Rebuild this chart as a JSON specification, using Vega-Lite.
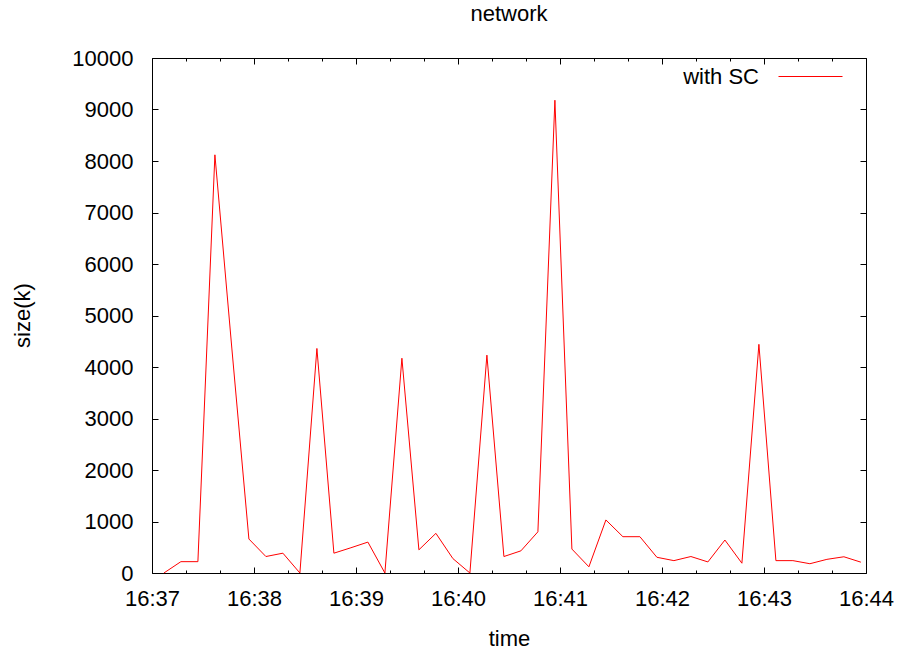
{
  "$schema": "https://vega.github.io/schema/vega-lite/v6.json",
  "autosize": {"type": "none"},
  "padding": {"left": 152, "top": 58, "right": 33, "bottom": 79},
  "width": 714,
  "height": 515,
  "background": "white",
  "title": {"text": "network", "fontSize": 22, "font": "Liberation Sans", "fontWeight": "normal", "color": "#000000", "offset": 18, "anchor": "middle"},
  "config": {"view": {"stroke": "#000000", "strokeWidth": 1}, "font": "Liberation Sans"},
  "data": {"values": [
    {"t": "2024-01-01T16:37:07", "size": 0},
    {"t": "2024-01-01T16:37:17", "size": 220},
    {"t": "2024-01-01T16:37:27", "size": 220},
    {"t": "2024-01-01T16:37:37", "size": 8120},
    {"t": "2024-01-01T16:37:47", "size": 4350},
    {"t": "2024-01-01T16:37:57", "size": 660},
    {"t": "2024-01-01T16:38:07", "size": 320},
    {"t": "2024-01-01T16:38:17", "size": 385},
    {"t": "2024-01-01T16:38:27", "size": 0},
    {"t": "2024-01-01T16:38:37", "size": 4360},
    {"t": "2024-01-01T16:38:47", "size": 385},
    {"t": "2024-01-01T16:38:57", "size": 490},
    {"t": "2024-01-01T16:39:07", "size": 600},
    {"t": "2024-01-01T16:39:17", "size": 0},
    {"t": "2024-01-01T16:39:27", "size": 4170},
    {"t": "2024-01-01T16:39:37", "size": 450},
    {"t": "2024-01-01T16:39:47", "size": 770},
    {"t": "2024-01-01T16:39:57", "size": 280},
    {"t": "2024-01-01T16:40:07", "size": 0},
    {"t": "2024-01-01T16:40:17", "size": 4230},
    {"t": "2024-01-01T16:40:27", "size": 320},
    {"t": "2024-01-01T16:40:37", "size": 430},
    {"t": "2024-01-01T16:40:47", "size": 800},
    {"t": "2024-01-01T16:40:57", "size": 9180},
    {"t": "2024-01-01T16:41:07", "size": 465},
    {"t": "2024-01-01T16:41:17", "size": 120},
    {"t": "2024-01-01T16:41:27", "size": 1030},
    {"t": "2024-01-01T16:41:37", "size": 705},
    {"t": "2024-01-01T16:41:47", "size": 705},
    {"t": "2024-01-01T16:41:57", "size": 305},
    {"t": "2024-01-01T16:42:07", "size": 240},
    {"t": "2024-01-01T16:42:17", "size": 320},
    {"t": "2024-01-01T16:42:27", "size": 215},
    {"t": "2024-01-01T16:42:37", "size": 640},
    {"t": "2024-01-01T16:42:47", "size": 190},
    {"t": "2024-01-01T16:42:57", "size": 4440},
    {"t": "2024-01-01T16:43:07", "size": 240},
    {"t": "2024-01-01T16:43:17", "size": 240},
    {"t": "2024-01-01T16:43:27", "size": 180},
    {"t": "2024-01-01T16:43:37", "size": 265},
    {"t": "2024-01-01T16:43:47", "size": 315},
    {"t": "2024-01-01T16:43:57", "size": 210}
  ]},
  "layer": [
    {
      "mark": {"type": "line", "strokeWidth": 1, "interpolate": "linear"},
      "encoding": {
        "x": {
          "field": "t", "type": "temporal",
          "scale": {"domain": [
            {"year": 2024, "month": 1, "date": 1, "hours": 16, "minutes": 37, "seconds": 0},
            {"year": 2024, "month": 1, "date": 1, "hours": 16, "minutes": 44, "seconds": 0}
          ], "nice": false},
          "axis": {
            "orient": "bottom", "domain": false, "grid": false,
            "values": [
              {"year": 2024, "month": 1, "date": 1, "hours": 16, "minutes": 37},
              {"year": 2024, "month": 1, "date": 1, "hours": 16, "minutes": 38},
              {"year": 2024, "month": 1, "date": 1, "hours": 16, "minutes": 39},
              {"year": 2024, "month": 1, "date": 1, "hours": 16, "minutes": 40},
              {"year": 2024, "month": 1, "date": 1, "hours": 16, "minutes": 41},
              {"year": 2024, "month": 1, "date": 1, "hours": 16, "minutes": 42},
              {"year": 2024, "month": 1, "date": 1, "hours": 16, "minutes": 43},
              {"year": 2024, "month": 1, "date": 1, "hours": 16, "minutes": 44}
            ],
            "format": "%H:%M",
            "tickColor": "#000000", "tickWidth": 1, "tickSize": -6,
            "labelFlush": false, "labelOverlap": false,
            "labelFontSize": 22, "labelColor": "#000000", "labelPadding": 21,
            "title": "time", "titleFontSize": 22, "titleFontWeight": "normal", "titleColor": "#000000",
            "titleX": 357, "titleY": 65, "titleBaseline": "middle", "titleAlign": "center"
          }
        },
        "y": {
          "field": "size", "type": "quantitative",
          "scale": {"domain": [0, 10000], "nice": false},
          "axis": {
            "orient": "left", "domain": false, "grid": false,
            "values": [0, 1000, 2000, 3000, 4000, 5000, 6000, 7000, 8000, 9000, 10000],
            "format": "d",
            "tickColor": "#000000", "tickWidth": 1, "tickSize": -6,
            "labelFontSize": 22, "labelColor": "#000000", "labelPadding": 25,
            "title": "size(k)", "titleFontSize": 22, "titleFontWeight": "normal", "titleColor": "#000000",
            "titleX": -130, "titleY": 257, "titleAngle": -90, "titleAlign": "center", "titleBaseline": "middle"
          }
        },
        "color": {
          "datum": "with SC", "type": "nominal",
          "scale": {"range": ["#ff0000"]},
          "legend": {
            "orient": "none", "legendX": 626, "legendY": -14, "title": null, "padding": 0,
            "symbolType": "stroke", "symbolSize": 4096, "symbolStrokeWidth": 1, "symbolStrokeColor": "#ff0000",
            "labelFontSize": 22, "labelColor": "#000000", "labelAlign": "right", "labelOffset": -84,
            "labelFont": "Liberation Sans"
          }
        }
      }
    },
    {
      "mark": {"type": "line", "opacity": 0},
      "encoding": {
        "x": {
          "field": "t", "type": "temporal",
          "axis": {
            "orient": "bottom", "domain": false, "grid": false, "labels": false, "title": null,
            "values": [
              {"year": 2024, "month": 1, "date": 1, "hours": 16, "minutes": 37, "seconds": 20},
              {"year": 2024, "month": 1, "date": 1, "hours": 16, "minutes": 37, "seconds": 40},
              {"year": 2024, "month": 1, "date": 1, "hours": 16, "minutes": 38, "seconds": 20},
              {"year": 2024, "month": 1, "date": 1, "hours": 16, "minutes": 38, "seconds": 40},
              {"year": 2024, "month": 1, "date": 1, "hours": 16, "minutes": 39, "seconds": 20},
              {"year": 2024, "month": 1, "date": 1, "hours": 16, "minutes": 39, "seconds": 40},
              {"year": 2024, "month": 1, "date": 1, "hours": 16, "minutes": 40, "seconds": 20},
              {"year": 2024, "month": 1, "date": 1, "hours": 16, "minutes": 40, "seconds": 40},
              {"year": 2024, "month": 1, "date": 1, "hours": 16, "minutes": 41, "seconds": 20},
              {"year": 2024, "month": 1, "date": 1, "hours": 16, "minutes": 41, "seconds": 40},
              {"year": 2024, "month": 1, "date": 1, "hours": 16, "minutes": 42, "seconds": 20},
              {"year": 2024, "month": 1, "date": 1, "hours": 16, "minutes": 42, "seconds": 40},
              {"year": 2024, "month": 1, "date": 1, "hours": 16, "minutes": 43, "seconds": 20},
              {"year": 2024, "month": 1, "date": 1, "hours": 16, "minutes": 43, "seconds": 40}
            ],
            "tickColor": "#000000", "tickWidth": 1, "tickSize": -3
          }
        },
        "y": {
          "field": "size", "type": "quantitative",
          "axis": {
            "orient": "right", "domain": false, "grid": false, "labels": false, "title": null,
            "values": [0, 1000, 2000, 3000, 4000, 5000, 6000, 7000, 8000, 9000, 10000],
            "tickColor": "#000000", "tickWidth": 1, "tickSize": -6
          }
        }
      }
    },
    {
      "mark": {"type": "line", "opacity": 0},
      "encoding": {
        "x": {
          "field": "t", "type": "temporal",
          "axis": {
            "orient": "top", "domain": false, "grid": false, "labels": false, "title": null,
            "values": [
              {"year": 2024, "month": 1, "date": 1, "hours": 16, "minutes": 37},
              {"year": 2024, "month": 1, "date": 1, "hours": 16, "minutes": 38},
              {"year": 2024, "month": 1, "date": 1, "hours": 16, "minutes": 39},
              {"year": 2024, "month": 1, "date": 1, "hours": 16, "minutes": 40},
              {"year": 2024, "month": 1, "date": 1, "hours": 16, "minutes": 41},
              {"year": 2024, "month": 1, "date": 1, "hours": 16, "minutes": 42},
              {"year": 2024, "month": 1, "date": 1, "hours": 16, "minutes": 43},
              {"year": 2024, "month": 1, "date": 1, "hours": 16, "minutes": 44}
            ],
            "tickColor": "#000000", "tickWidth": 1, "tickSize": -6
          }
        },
        "y": {"field": "size", "type": "quantitative", "axis": null}
      }
    },
    {
      "mark": {"type": "line", "opacity": 0},
      "encoding": {
        "x": {
          "field": "t", "type": "temporal",
          "axis": {
            "orient": "top", "domain": false, "grid": false, "labels": false, "title": null,
            "values": [
              {"year": 2024, "month": 1, "date": 1, "hours": 16, "minutes": 37, "seconds": 20},
              {"year": 2024, "month": 1, "date": 1, "hours": 16, "minutes": 37, "seconds": 40},
              {"year": 2024, "month": 1, "date": 1, "hours": 16, "minutes": 38, "seconds": 20},
              {"year": 2024, "month": 1, "date": 1, "hours": 16, "minutes": 38, "seconds": 40},
              {"year": 2024, "month": 1, "date": 1, "hours": 16, "minutes": 39, "seconds": 20},
              {"year": 2024, "month": 1, "date": 1, "hours": 16, "minutes": 39, "seconds": 40},
              {"year": 2024, "month": 1, "date": 1, "hours": 16, "minutes": 40, "seconds": 20},
              {"year": 2024, "month": 1, "date": 1, "hours": 16, "minutes": 40, "seconds": 40},
              {"year": 2024, "month": 1, "date": 1, "hours": 16, "minutes": 41, "seconds": 20},
              {"year": 2024, "month": 1, "date": 1, "hours": 16, "minutes": 41, "seconds": 40},
              {"year": 2024, "month": 1, "date": 1, "hours": 16, "minutes": 42, "seconds": 20},
              {"year": 2024, "month": 1, "date": 1, "hours": 16, "minutes": 42, "seconds": 40},
              {"year": 2024, "month": 1, "date": 1, "hours": 16, "minutes": 43, "seconds": 20},
              {"year": 2024, "month": 1, "date": 1, "hours": 16, "minutes": 43, "seconds": 40}
            ],
            "tickColor": "#000000", "tickWidth": 1, "tickSize": -3
          }
        },
        "y": {"field": "size", "type": "quantitative", "axis": null}
      }
    }
  ],
  "resolve": {"axis": {"x": "independent", "y": "independent"}}
}
